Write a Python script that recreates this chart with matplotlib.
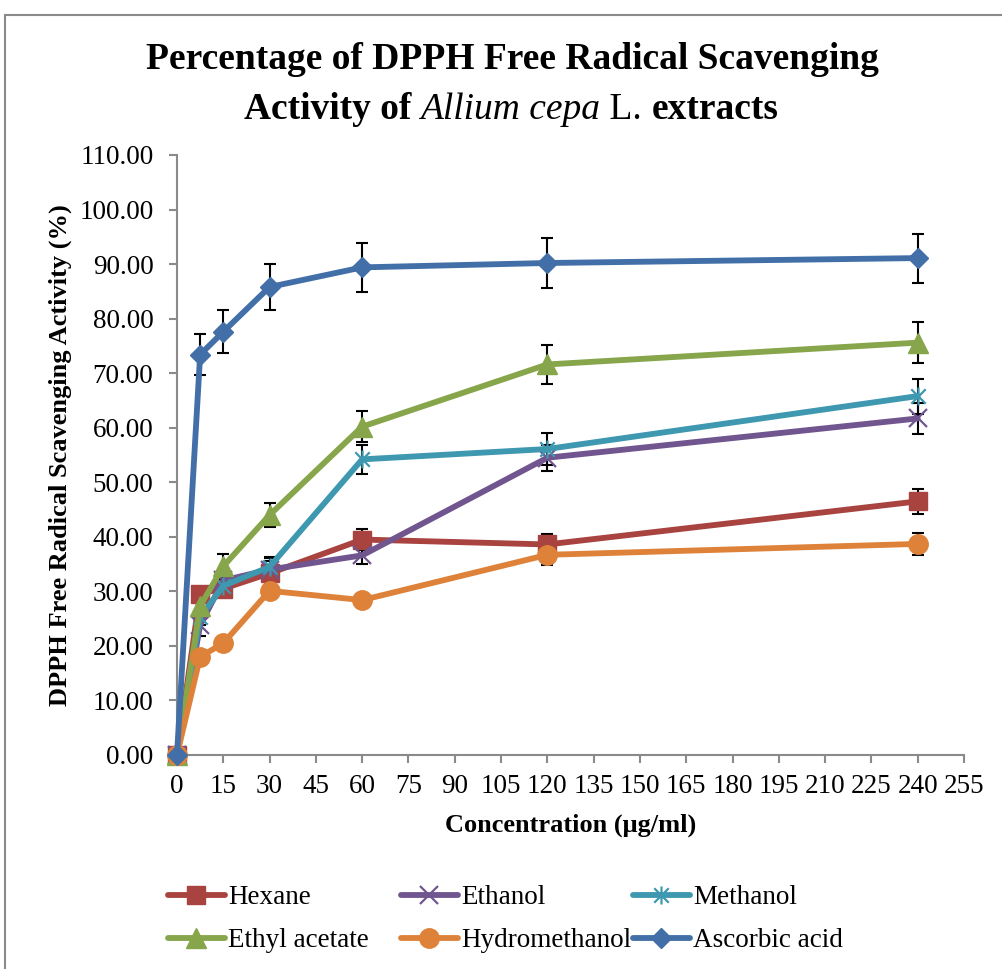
import matplotlib
matplotlib.use("Agg")
import matplotlib.pyplot as plt
from matplotlib.path import Path
from matplotlib.patches import Rectangle

# ---------------- data ----------------
conc = [0, 7.5, 15, 30, 60, 120, 240]

hexane = [0, 29.6, 30.5, 33.3, 39.5, 38.6, 46.5]
ethanol = [0, 23.8, 32.0, 34.0, 36.6, 54.5, 61.7]
methanol = [0, 25.3, 31.0, 34.5, 54.2, 56.1, 65.8]
ethyl_acetate = [0, 27.3, 34.6, 44.0, 60.2, 71.6, 75.6]
hydromethanol = [0, 18.0, 20.5, 30.1, 28.4, 36.7, 38.7]
ascorbic = [0, 73.4, 77.6, 85.8, 89.4, 90.2, 91.1]

hexane_err = [0, 1.0, 1.0, 2.8, 2.0, 2.0, 2.3]
ethanol_err = [0, 2.0, 1.5, 1.5, 1.6, 2.4, 2.9]
methanol_err = [0, 1.5, 1.5, 1.8, 2.7, 2.9, 3.2]
ethyl_acetate_err = [0, 2.0, 2.3, 2.2, 2.9, 3.6, 3.8]
hydromethanol_err = [0, 1.0, 1.0, 1.5, 1.0, 1.8, 2.0]
ascorbic_err = [0, 3.7, 3.9, 4.3, 4.5, 4.5, 4.5]

labels = ["Hexane", "Ethanol", "Methanol", "Ethyl acetate", "Hydromethanol", "Ascorbic acid"]
x_ticks = list(range(0, 256, 15))
y_ticks = list(range(0, 111, 10))

# ---------------- style ----------------
colors = ["#A8433F", "#71558F", "#3E98AF", "#87A54A", "#DE823A", "#426FA8"]
asterisk = Path([(-1, -1), (1, 1), (-1, 1), (1, -1), (0, -1.25), (0, 1.25)],
                [Path.MOVETO, Path.LINETO, Path.MOVETO, Path.LINETO, Path.MOVETO, Path.LINETO])
markers = ["s", "x", asterisk, "^", "o", "D"]
msizes = [13, 13, 13, 14, 14, 10]

W, H = 1003, 969
DPI = 100
plt.rcParams['font.family'] = ['Liberation Serif', 'DejaVu Serif']
fig = plt.figure(figsize=(W / DPI, H / DPI), dpi=DPI)

def fx(px):
    return px / W

def fy(py):
    return 1 - py / H

# outer chart frame
fig.patches.append(Rectangle((fx(5), fy(1000)), fx(1040) - fx(5), fy(15) - fy(1000),
                             transform=fig.transFigure, fill=False,
                             edgecolor="#8A8A8A", lw=1.5, zorder=0))

ax = fig.add_axes([fx(177), fy(755), fx(964) - fx(177), fy(155) - fy(755)])

series = [hexane, ethanol, methanol, ethyl_acetate, hydromethanol, ascorbic]
errs = [hexane_err, ethanol_err, methanol_err, ethyl_acetate_err, hydromethanol_err, ascorbic_err]

handles = []
for i, (ys, es) in enumerate(zip(series, errs)):
    ax.errorbar(conc[1:], ys[1:], yerr=es[1:], fmt="none", ecolor="black",
                elinewidth=1.5, capsize=4.5, capthick=1.5, zorder=2 + i * 0.1)
    filled = markers[i] not in ("x",) and markers[i] is not asterisk
    mfc = colors[i] if filled else "none"
    h, = ax.plot(conc, ys, color=colors[i], lw=4.2, marker=markers[i],
                 ms=msizes[i], mfc=mfc, mec=colors[i],
                 mew=1.0 if filled else 1.6, zorder=3 + i * 0.1,
                 solid_capstyle="round", solid_joinstyle="round",
                 label=labels[i])
    handles.append(h)

ax.set_xlim(0, 255)
ax.set_ylim(0, 110)
ax.set_xticks(x_ticks)
ax.set_yticks(y_ticks)
ax.set_yticklabels([f"{v:.2f}" for v in y_ticks])
ax.set_xticklabels([str(v) for v in x_ticks])
for s in ["top", "right"]:
    ax.spines[s].set_visible(False)
for s in ["left", "bottom"]:
    ax.spines[s].set_color("#8A8A8A")
    ax.spines[s].set_linewidth(1.5)
ax.tick_params(axis="both", colors="#8A8A8A", width=1.5, length=6, labelcolor="black",
               labelsize=19.5)
ax.tick_params(axis="y", pad=11)
ax.tick_params(axis="x", pad=8)
for art in ax.lines:
    art.set_clip_on(False)
for coll in ax.collections:
    coll.set_clip_on(False)

ax.set_xlabel("Concentration (μg/ml)", fontsize=19, fontweight="bold", labelpad=10)
ax.set_ylabel("DPPH Free Radical Scavenging Activity (%)", fontsize=19,
              fontweight="bold", labelpad=5)

# ---------------- title ----------------
TFS = 27
fig.text(fx(512), fy(69), "Percentage of DPPH Free Radical Scavenging",
         fontsize=TFS, fontweight="bold", ha="center", va="baseline")
pieces = [("Activity of ", dict(fontweight="bold")),
          ("Allium cepa", dict(fontstyle="italic")),
          (" L. ", dict()),
          ("extracts", dict(fontweight="bold"))]
renderer = fig.canvas.get_renderer()
texts = []
for s, kw in pieces:
    t = fig.text(0, fy(119), s, fontsize=TFS, va="baseline", ha="left", **kw)
    texts.append(t)
widths = [t.get_window_extent(renderer).width for t in texts]
total = sum(widths)
x0 = 511 - total / 2
for t, w in zip(texts, widths):
    t.set_x(fx(x0))
    x0 += w

# ---------------- legend ----------------
col_x = [168, 401, 633]
for c in range(3):
    hs = [handles[c], handles[c + 3]]
    fig.legend(hs, [labels[c], labels[c + 3]], loc="upper left",
               bbox_to_anchor=(fx(col_x[c]), fy(885)), frameon=False,
               fontsize=19.5, handlelength=2.1, handletextpad=0.12,
               labelspacing=0.68, borderpad=0, borderaxespad=0)

fig.savefig("out.png", dpi=DPI)
